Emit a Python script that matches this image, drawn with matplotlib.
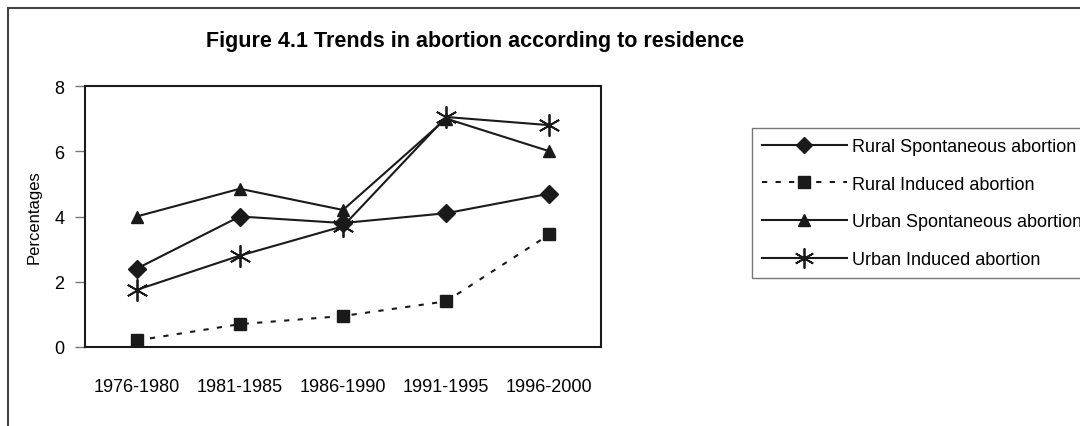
import matplotlib
matplotlib.use('Agg')
from matplotlib import pyplot as plt
from matplotlib.patches import Rectangle

# 数据
periods = ['1976-1980', '1981-1985', '1986-1990', '1991-1995', '1996-2000']
rural_spontaneous = [2.4, 4.0, 3.8, 4.1, 4.7]
rural_induced = [0.2, 0.7, 0.95, 1.4, 3.45]
urban_spontaneous = [4.0, 4.85, 4.2, 7.0, 6.0]
urban_induced = [1.75, 2.8, 3.7, 7.05, 6.8]

plt.rcParams['font.family'] = ['Liberation Sans', 'DejaVu Sans']

fig = plt.figure(figsize=(10.8, 4.27), dpi=100)
ax = fig.add_axes([85 / 1080, 1 - 348 / 427, 516 / 1080, 261 / 427])

x = list(range(len(periods)))
c = '#1a1a1a'
ax.plot(x, rural_spontaneous, color=c, lw=1.5, marker='D', ms=9, label='Rural Spontaneous abortion')
ax.plot(x, rural_induced, color=c, lw=1.5, ls=(0, (2.5, 4)), marker='s', ms=9, label='Rural Induced abortion')
ax.plot(x, urban_spontaneous, color=c, lw=1.5, marker='^', ms=9, label='Urban Spontaneous abortion')
ax.plot(x, urban_induced, color=c, lw=1.5, marker=(6, 2, 0), ms=16, mew=1.3, label='Urban Induced abortion')

ax.set_xlim(-0.5, 4.5)
ax.set_ylim(0, 8)
ax.set_yticks([0, 2, 4, 6, 8])
ax.set_xticks(x)
ax.set_xticklabels(periods)
ax.tick_params(axis='x', length=0, pad=22, labelsize=13)
ax.tick_params(axis='y', length=7, width=1, color='#777777', labelsize=13, pad=8)
for s in ax.spines.values():
    s.set_linewidth(1.5)
    s.set_color(c)
ax.set_ylabel('Percentages', fontsize=12, labelpad=9)

# 标题
fig.text(475 / 1080, 1 - 41 / 427, 'Figure 4.1 Trends in abortion according to residence',
         ha='center', va='center', fontsize=15.5, fontweight='bold')

leg = ax.legend(loc='upper left', bbox_to_anchor=(752 / 1080, 1 - 129 / 427),
                bbox_transform=fig.transFigure, frameon=True, fancybox=False,
                fontsize=13, handlelength=4.7, handletextpad=0.3, labelspacing=1.15,
                borderpad=0.55, borderaxespad=0, markerscale=0.9)
leg.get_frame().set_edgecolor('#555555')
leg.get_frame().set_linewidth(1)

# 外框
fig.patches.append(Rectangle((8 / 1080, -0.1), 1.2, 1.1 - 9 / 427, transform=fig.transFigure,
                             fill=False, edgecolor='#444444', lw=1.5))

plt.savefig('out.png', dpi=100)
